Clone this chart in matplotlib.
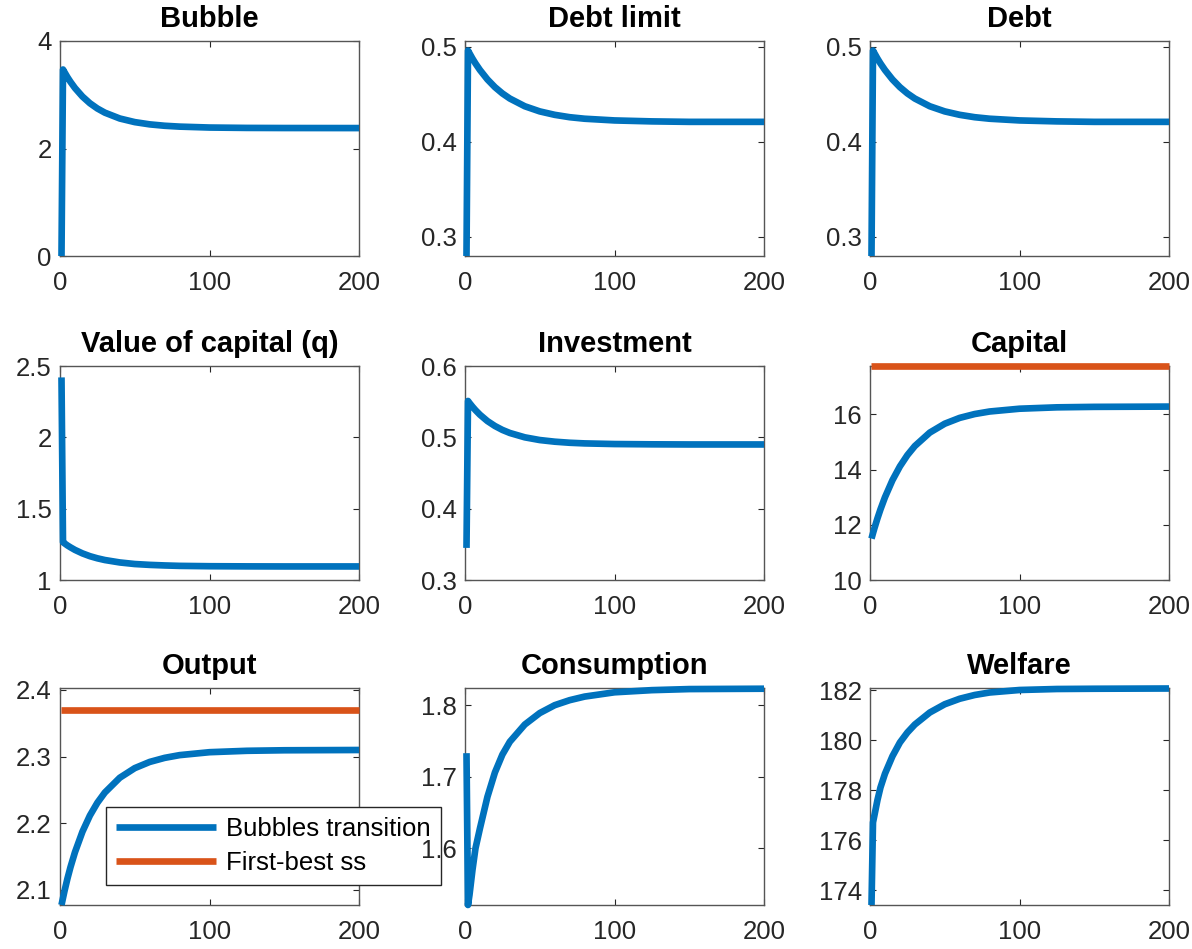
#!/usr/bin/env python3
"""Transition paths of the bubbly economy: 3x3 panel of aggregates."""

import matplotlib

matplotlib.use("Agg")
import matplotlib.pyplot as plt
from matplotlib.ticker import FuncFormatter

BLUE = "#0072BD"
RED = "#D95319"
AX_COLOR = "#262626"

# periods at which each path was recorded
T = [1, 2, 3, 5, 7, 10, 15, 20, 25, 30, 40, 50, 60, 70, 80, 100, 125, 150, 200]

bubble = [0.0, 3.47, 3.42, 3.325, 3.24, 3.125, 2.967, 2.842, 2.744, 2.667,
          2.558, 2.491, 2.449, 2.423, 2.407, 2.390, 2.383, 2.381, 2.380]
debt_limit = [0.28, 0.496, 0.4931, 0.4875, 0.4824, 0.4755, 0.4656, 0.4575,
              0.4509, 0.4455, 0.4374, 0.432, 0.4284, 0.4259, 0.4243, 0.4225,
              0.4215, 0.421, 0.421]
debt = [0.28, 0.496, 0.4931, 0.4875, 0.4824, 0.4755, 0.4656, 0.4575,
        0.4509, 0.4455, 0.4374, 0.432, 0.4284, 0.4259, 0.4243, 0.4225,
        0.4215, 0.421, 0.421]
q_value = [2.42, 1.265, 1.257, 1.242, 1.229, 1.211, 1.1865, 1.167, 1.152,
           1.140, 1.123, 1.112, 1.106, 1.102, 1.099, 1.0966, 1.0955, 1.095,
           1.095]
investment = [0.345, 0.551, 0.5481, 0.5429, 0.5381, 0.5317, 0.5228, 0.5159,
              0.5104, 0.5061, 0.500, 0.4962, 0.4939, 0.4924, 0.4915, 0.4906,
              0.4902, 0.490, 0.490]
capital = [11.50, 11.695, 11.882, 12.234, 12.557, 12.995, 13.613, 14.114,
           14.522, 14.852, 15.339, 15.66, 15.871, 16.01, 16.102, 16.203,
           16.253, 16.27, 16.28]
output = [2.0775, 2.088, 2.0984, 2.1173, 2.1342, 2.1566, 2.1874, 2.2117,
          2.2309, 2.2462, 2.2684, 2.2828, 2.2921, 2.2982, 2.3023, 2.3067,
          2.3088, 2.3096, 2.310]
consumption = [1.733, 1.521, 1.535, 1.570, 1.600, 1.628, 1.672, 1.706, 1.731,
               1.749, 1.773, 1.789, 1.800, 1.807, 1.812, 1.818, 1.821, 1.8225,
               1.823]
welfare = [173.4, 176.7, 177.0, 177.6, 178.1, 178.65, 179.35, 179.9, 180.3,
           180.62, 181.1, 181.43, 181.65, 181.8, 181.9, 182.0, 182.04, 182.05,
           182.06]

# first-best steady state levels
capital_fb = 17.75
output_fb = 2.37

panels = [
    ("Bubble", bubble, None, (0, 4), [0, 2, 4]),
    ("Debt limit", debt_limit, None, (0.28, 0.506), [0.3, 0.4, 0.5]),
    ("Debt", debt, None, (0.28, 0.506), [0.3, 0.4, 0.5]),
    ("Value of capital (q)", q_value, None, (1, 2.5), [1, 1.5, 2, 2.5]),
    ("Investment", investment, None, (0.3, 0.6), [0.3, 0.4, 0.5, 0.6]),
    ("Capital", capital, capital_fb, (10, 17.75), [10, 12, 14, 16]),
    ("Output", output, output_fb, (2.0775, 2.403), [2.1, 2.2, 2.3, 2.4]),
    ("Consumption", consumption, None, (1.521, 1.824), [1.6, 1.7, 1.8]),
    ("Welfare", welfare, None, (173.4, 182.08), [174, 176, 178, 180, 182]),
]

plt.rcParams["font.family"] = ["Liberation Sans", "DejaVu Sans"]

fig = plt.figure(figsize=(11.92, 9.49), dpi=100)

col_left = [60, 465, 870]
row_box = [(41, 256), (366, 580), (688, 905)]
W, H = 1192, 949
ax_w = 299

fmt = FuncFormatter(lambda v, p: f"{v:g}")

for i, (title, series, fb, ylim, yticks) in enumerate(panels):
    r, c = divmod(i, 3)
    top, bot = row_box[r]
    ax = fig.add_axes([col_left[c] / W, 1 - bot / H, ax_w / W, (bot - top) / H])

    blue_line, = ax.plot(T, series, color=BLUE, lw=4.8, solid_capstyle="butt",
                         clip_on=False, zorder=3)
    if fb is not None:
        red_line, = ax.plot([T[0], T[-1]], [fb, fb], color=RED, lw=4.8,
                            solid_capstyle="butt", clip_on=False, zorder=3)

    ax.set_xlim(0, 200)
    ax.set_ylim(*ylim)
    ax.set_xticks([0, 100, 200])
    ax.set_yticks(yticks)
    ax.yaxis.set_major_formatter(fmt)
    ax.set_title(title, fontsize=21, fontweight="bold", pad=10)

    ax.tick_params(direction="in", length=4, width=0.8, colors=AX_COLOR,
                   labelsize=18.5, top=True, right=True)
    ax.tick_params(axis="x", pad=11)
    ax.tick_params(axis="y", pad=6)
    for sp in ax.spines.values():
        sp.set_color("#555555")
        sp.set_linewidth(1.0)

    if title == "Output":
        leg = ax.legend([blue_line, red_line],
                        ["Bubbles transition", "First-best ss"],
                        loc="lower left", bbox_to_anchor=(0.154, 0.092),
                        borderaxespad=0, fontsize=18.5, handlelength=3.9,
                        handletextpad=0.4, labelspacing=0.4, borderpad=0.38,
                        fancybox=False, framealpha=1, edgecolor=AX_COLOR)
        leg.get_frame().set_linewidth(1.0)
        leg.set_zorder(5)

fig.savefig("out.png", dpi=100)
